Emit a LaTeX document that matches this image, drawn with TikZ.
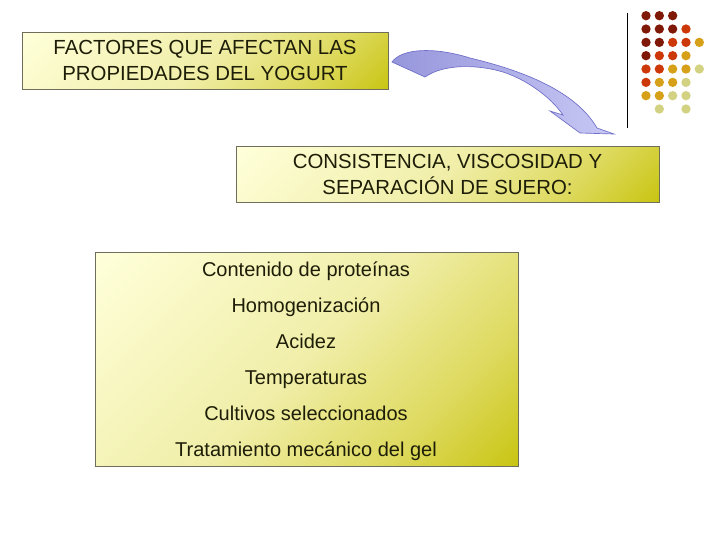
\documentclass[tikz,border=0pt]{standalone}
\usepackage{fontspec}
\setmainfont{Liberation Sans}

\definecolor{boxlight}{RGB}{255,255,218}
\definecolor{boxmid}{RGB}{240,238,168}
\definecolor{boxdeep}{RGB}{222,218,96}
\definecolor{boxdark}{RGB}{200,196,16}
\definecolor{boxline}{RGB}{110,110,90}
\definecolor{inktext}{RGB}{30,30,8}
\definecolor{arrowdark}{RGB}{150,150,220}
\definecolor{arrowlight}{RGB}{200,200,245}
\definecolor{arrowline}{RGB}{110,110,200}
\definecolor{dotA}{RGB}{128,24,8}
\definecolor{dotB}{RGB}{204,56,8}
\definecolor{dotC}{RGB}{214,160,24}
\definecolor{dotD}{RGB}{210,210,130}

\pgfdeclarehorizontalshading{boxshade}{100bp}{color(0bp)=(boxlight);
    color(15bp)=(boxlight); color(50bp)=(boxmid); color(70bp)=(boxdeep);
    color(86bp)=(boxdark); color(100bp)=(boxdark)}

\begin{document}
\begin{tikzpicture}[x=0.75pt, y=-0.75pt,
    box/.style={rectangle, draw=boxline, line width=0.6pt, shading=boxshade,
        shading angle=-45, inner sep=0pt, align=center, text=inktext},
    head/.style={box, font=\fontsize{15.3}{19.5}\selectfont},
    item/.style={anchor=base, text=inktext, font=\fontsize{15}{18}\selectfont}
]
    \useasboundingbox (0,0) rectangle (720,540);

    \node[head, minimum width=274.5pt, minimum height=42.75pt] (title) at (205,60.5)
        {FACTORES QUE AFECTAN LAS\\PROPIEDADES DEL YOGURT};
    \node[head, minimum width=317.25pt, minimum height=42pt] (prop) at (447.5,174)
        {CONSISTENCIA, VISCOSIDAD Y\\SEPARACIÓN DE SUERO:};
    \node[box, minimum width=317.25pt, minimum height=160.5pt] (factors) at (306.5,359) {};

    \node[item] (f1) at (306,276.5) {Contenido de proteínas};
    \node[item] (f2) at (306,312.5) {Homogenización};
    \node[item] (f3) at (306,348.5) {Acidez};
    \node[item] (f4) at (306,384.5) {Temperaturas};
    \node[item] (f5) at (306,420.5) {Cultivos seleccionados};
    \node[item] (f6) at (306,456.5) {Tratamiento mecánico del gel};

    % curved block arrow
    \draw[draw=arrowline, line width=0.5pt, left color=arrowdark, right color=arrowlight]
        (392,62) .. controls (402,48) and (435,47) .. (470,58)
        .. controls (520,70) and (575,90) .. (597,128)
        -- (614,134) -- (580,133) -- (550,111) -- (563,115)
        .. controls (550,96) and (525,79) .. (503,72)
        .. controls (480,65) and (445,63) .. (425,77) -- cycle;

    % corner decoration
    \draw[line width=0.75pt] (627.3,12.7) -- (627.3,127.7);
    \foreach \c/\r/\col in {1/1/dotA, 2/1/dotA, 3/1/dotA,
            1/2/dotA, 2/2/dotA, 3/2/dotA, 4/2/dotB,
            1/3/dotA, 2/3/dotA, 3/3/dotB, 4/3/dotB, 5/3/dotC,
            1/4/dotA, 2/4/dotB, 3/4/dotB, 4/4/dotC,
            1/5/dotB, 2/5/dotB, 3/5/dotC, 4/5/dotC, 5/5/dotD,
            1/6/dotB, 2/6/dotC, 3/6/dotC, 4/6/dotD,
            1/7/dotC, 2/7/dotC, 3/7/dotD, 4/7/dotD,
            2/8/dotD, 4/8/dotD}
        \fill[\col] ({646+13.33*(\c-1)},{15.7+13.33*(\r-1)}) circle (3.5pt);
\end{tikzpicture}
\end{document}
